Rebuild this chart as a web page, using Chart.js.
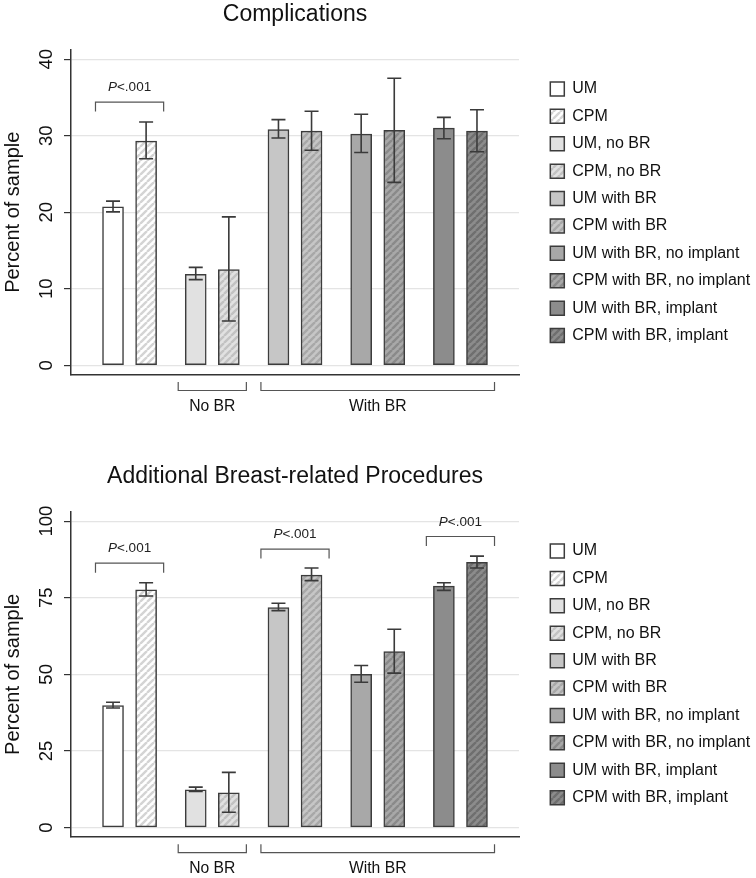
<!DOCTYPE html>
<html>
<head>
<meta charset="utf-8">
<script src="https://cdn.jsdelivr.net/npm/chart.js@4.4.1/dist/chart.umd.min.js"></script>
<style>
html, body { margin: 0; padding: 0; background: #ffffff; }
canvas { display: block; }
</style>
</head>
<body>
<canvas id="chartComplications" width="756" height="462"></canvas>
<canvas id="chartProcedures" width="756" height="416"></canvas>
<script>
// ---------------- data ----------------
const seriesLabels = [
  'UM', 'CPM', 'UM, no BR', 'CPM, no BR', 'UM with BR', 'CPM with BR',
  'UM with BR, no implant', 'CPM with BR, no implant',
  'UM with BR, implant', 'CPM with BR, implant'
];
const barPositions = [0, 1, 2.5, 3.5, 5, 6, 7.5, 8.5, 10, 11];

const complicationsValues = [20.7, 29.3, 11.9, 12.5, 30.8, 30.6, 30.2, 30.7, 31.0, 30.6];
const complicationsLower  = [20.05, 27.0, 11.2, 5.8, 29.7, 28.1, 27.8, 23.9, 29.6, 27.9];
const complicationsUpper  = [21.45, 31.8, 12.8, 19.4, 32.1, 33.2, 32.8, 37.5, 32.4, 33.4];
const complicationsTicks  = [0, 10, 20, 30, 40];

const proceduresValues = [39.8, 77.6, 12.3, 11.3, 71.8, 82.4, 50.0, 57.4, 78.8, 86.6];
const proceduresLower  = [39.0, 75.6, 11.8, 5.0, 70.8, 80.6, 47.4, 50.4, 77.4, 84.7];
const proceduresUpper  = [40.9, 79.9, 13.2, 18.0, 73.2, 84.7, 52.9, 64.7, 79.9, 88.6];
const proceduresTicks  = [0, 25, 50, 75, 100];

const complicationsBrackets = [{ from: 0, to: 1, y: 34.4, label: '<.001' }];
const proceduresBrackets = [
  { from: 0, to: 1, y: 86.3, label: '<.001' },
  { from: 5, to: 6, y: 90.9, label: '<.001' },
  { from: 10, to: 11, y: 95.0, label: '<.001' }
];
const groupBrackets = [
  { from: 2.5, to: 3.5, label: 'No BR' },
  { from: 5, to: 11, label: 'With BR' }
];

// ---------------- styles ----------------
const FONT = "'Liberation Sans', Arial, Helvetica, sans-serif";
Chart.defaults.font.family = FONT;
Chart.defaults.color = '#111111';
const INK = '#333333';
const baseFills   = ['#ffffff', '#ffffff', '#e1e1e1', '#e1e1e1', '#c6c6c6', '#c6c6c6', '#a8a8a8', '#a8a8a8', '#8c8c8c', '#8c8c8c'];
const stripeFills = [null, '#d4d4d4', null, '#c2c2c2', null, '#a8a8a8', null, '#8a8a8a', null, '#6f6f6f'];

function makeFill(base, stripe) {
  if (!stripe) return base;
  const s = 7;
  const c = document.createElement('canvas');
  c.width = s; c.height = s;
  const g = c.getContext('2d');
  g.fillStyle = base; g.fillRect(0, 0, s, s);
  g.strokeStyle = stripe; g.lineWidth = 2.4;
  g.beginPath();
  for (let k = -1; k <= 1; k++) { g.moveTo(k * s, s); g.lineTo(k * s + s, 0); }
  g.stroke();
  return g.createPattern(c, 'repeat');
}
const fills = baseFills.map((b, i) => makeFill(b, stripeFills[i]));

// ---------------- plugins ----------------
const errorBarPlugin = {
  id: 'errorBars',
  afterDatasetsDraw(chart, args, opts) {
    const ctx = chart.ctx, ys = chart.scales.y;
    ctx.save();
    ctx.strokeStyle = '#3a3a3a';
    ctx.lineWidth = 1.6;
    chart.data.datasets.forEach((ds, i) => {
      const el = chart.getDatasetMeta(i).data[0];
      if (!el) return;
      const x = el.x;
      const lo = ys.getPixelForValue(opts.lower[i]);
      const hi = ys.getPixelForValue(opts.upper[i]);
      ctx.beginPath();
      ctx.moveTo(x, lo); ctx.lineTo(x, hi);
      ctx.moveTo(x - 7, lo); ctx.lineTo(x + 7, lo);
      ctx.moveTo(x - 7, hi); ctx.lineTo(x + 7, hi);
      ctx.stroke();
    });
    ctx.restore();
  }
};

const HALF_SPAN = 0.53;
const annotPlugin = {
  id: 'annot',
  afterDatasetsDraw(chart, args, opts) {
    const ctx = chart.ctx, xs = chart.scales.x, ys = chart.scales.y;
    ctx.save();
    (opts.pBrackets || []).forEach(b => {
      const x1 = xs.getPixelForValue(b.from - HALF_SPAN);
      const x2 = xs.getPixelForValue(b.to + HALF_SPAN);
      const y = ys.getPixelForValue(b.y);
      ctx.strokeStyle = '#555555'; ctx.lineWidth = 1.2;
      ctx.beginPath();
      ctx.moveTo(x1, y + 9.5); ctx.lineTo(x1, y); ctx.lineTo(x2, y); ctx.lineTo(x2, y + 9.5);
      ctx.stroke();
      const cx = (x1 + x2) / 2, ty = y - 14.5;
      ctx.fillStyle = '#222222';
      ctx.textBaseline = 'middle';
      ctx.textAlign = 'left';
      ctx.font = 'italic 13.5px ' + FONT;
      const wP = ctx.measureText('P').width;
      ctx.font = '13.5px ' + FONT;
      const wR = ctx.measureText(b.label).width;
      const sx = cx - (wP + wR) / 2;
      ctx.font = 'italic 13.5px ' + FONT;
      ctx.fillText('P', sx, ty);
      ctx.font = '13.5px ' + FONT;
      ctx.fillText(b.label, sx + wP, ty);
    });
    ctx.restore();
  },
  afterDraw(chart, args, opts) {
    const ctx = chart.ctx, xs = chart.scales.x, ys = chart.scales.y;
    const base = chart.chartArea.bottom;
    ctx.save();
    (opts.groups || []).forEach(g => {
      const x1 = xs.getPixelForValue(g.from - HALF_SPAN);
      const x2 = xs.getPixelForValue(g.to + HALF_SPAN);
      ctx.strokeStyle = '#555555'; ctx.lineWidth = 1.2;
      ctx.beginPath();
      ctx.moveTo(x1, base + 7.5); ctx.lineTo(x1, base + 16); ctx.lineTo(x2, base + 16); ctx.lineTo(x2, base + 7.5);
      ctx.stroke();
      ctx.fillStyle = '#111111';
      ctx.font = '15.7px ' + FONT;
      ctx.textAlign = 'center'; ctx.textBaseline = 'middle';
      ctx.fillText(g.label, (x1 + x2) / 2, base + 32);
    });
    // rotated y tick labels
    ctx.font = '18.5px ' + FONT;
    ctx.fillStyle = '#111111';
    ctx.textAlign = 'center'; ctx.textBaseline = 'middle';
    ys.ticks.forEach(t => {
      const y = ys.getPixelForValue(t.value);
      ctx.save();
      ctx.translate(ys.right - 24.3, y);
      ctx.rotate(-Math.PI / 2);
      ctx.fillText(String(t.value), 0, 0);
      ctx.restore();
    });
    ctx.restore();
  }
};

// ---------------- builder ----------------
function buildChart(id, cfg) {
  return new Chart(document.getElementById(id), {
    type: 'bar',
    data: {
      datasets: seriesLabels.map((lab, i) => ({
        label: lab,
        data: [{ x: barPositions[i], y: cfg.values[i] }],
        backgroundColor: fills[i],
        borderColor: '#3c3c3c',
        borderWidth: 1.5,
        borderSkipped: false,
        grouped: false,
        barThickness: 21
      }))
    },
    options: {
      responsive: false,
      animation: false,
      events: [],
      layout: { padding: 0 },
      scales: {
        x: {
          type: 'linear', min: -1.27, max: 12.27, bounds: 'data', offset: false,
          grid: { display: false, drawTicks: false, offset: false },
          ticks: { display: false },
          border: { display: true, color: INK, width: 1.5 },
          afterFit: s => { s.height = cfg.xAxisHeight; }
        },
        y: {
          type: 'linear', position: 'left', min: cfg.yMin, max: cfg.yMax, bounds: 'data',
          afterBuildTicks: s => { s.ticks = cfg.ticks.map(v => ({ value: v })); },
          ticks: { display: false },
          grid: { color: '#e4e4e4', lineWidth: 1.2, tickLength: 7, tickColor: INK, tickWidth: 1.2 },
          border: { display: true, color: INK, width: 1.5 },
          title: { display: true, text: 'Percent of sample', font: { size: 20 }, color: '#111111', padding: { top: 1, bottom: 0 } },
          afterFit: s => { s.width = 71; }
        },
        gap: {
          type: 'linear', position: 'right', display: true,
          grid: { display: false, drawTicks: false },
          border: { display: false },
          ticks: { display: false },
          afterFit: s => { s.width = 19.9; }
        }
      },
      plugins: {
        title: {
          display: true, text: cfg.title, fullSize: false,
          font: { size: 23, weight: 'normal' }, color: '#111111',
          padding: { top: 0.5, bottom: 21.9 }
        },
        legend: {
          display: true, position: 'right', align: 'center', fullSize: false, maxWidth: 217.1,
          labels: { boxWidth: 14, boxHeight: 14, padding: 11.4, font: { size: 16 }, color: '#111111' }
        },
        tooltip: { enabled: false },
        errorBars: { lower: cfg.lower, upper: cfg.upper },
        annot: { pBrackets: cfg.brackets, groups: groupBrackets }
      }
    },
    plugins: [errorBarPlugin, annotPlugin]
  });
}

buildChart('chartComplications', {
  title: 'Complications',
  values: complicationsValues, lower: complicationsLower, upper: complicationsUpper,
  ticks: complicationsTicks, yMin: -1.2, yMax: 41.2,
  brackets: complicationsBrackets, xAxisHeight: 87.5
});
buildChart('chartProcedures', {
  title: 'Additional Breast-related Procedures',
  values: proceduresValues, lower: proceduresLower, upper: proceduresUpper,
  ticks: proceduresTicks, yMin: -3, yMax: 103,
  brackets: proceduresBrackets, xAxisHeight: 41.3
});
</script>
</body>
</html>
